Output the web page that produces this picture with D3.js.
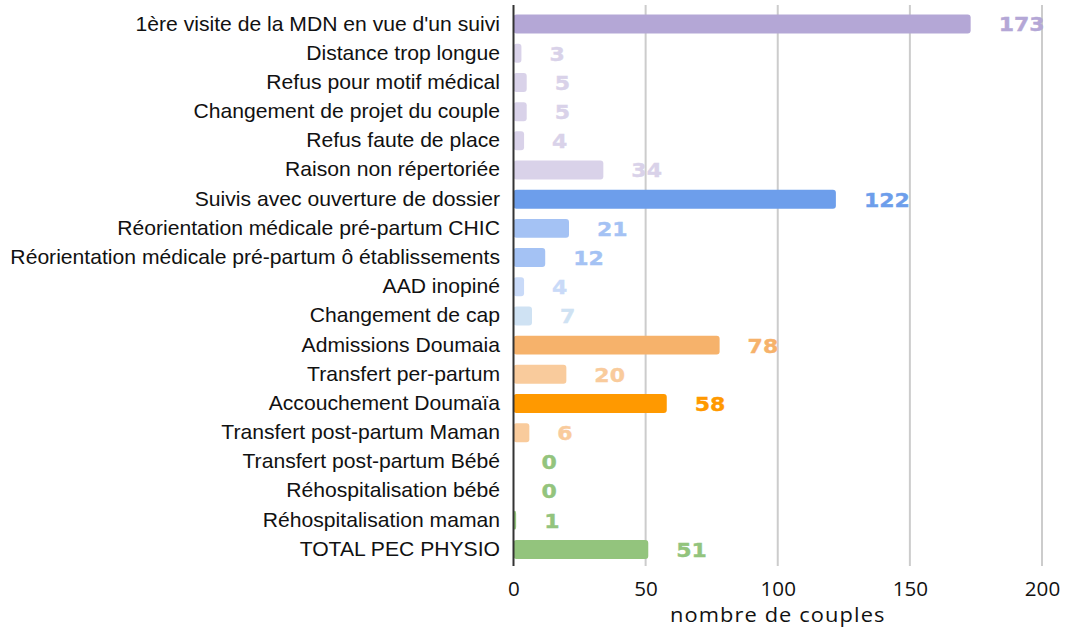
<!DOCTYPE html>
<html><head><meta charset="utf-8">
<script src="https://cdn.jsdelivr.net/npm/d3@7"></script>
<style>body{margin:0;background:#fff}</style>
</head><body>
<svg id="c" width="1067" height="627"></svg>
<script>
const categories = ["1ère visite de la MDN en vue d'un suivi","Distance trop longue","Refus pour motif médical","Changement de projet du couple","Refus faute de place","Raison non répertoriée","Suivis avec ouverture de dossier","Réorientation médicale pré-partum CHIC","Réorientation médicale pré-partum ô établissements","AAD inopiné","Changement de cap","Admissions Doumaia","Transfert per-partum","Accouchement Doumaïa","Transfert post-partum Maman","Transfert post-partum Bébé","Réhospitalisation bébé","Réhospitalisation maman","TOTAL PEC PHYSIO"];
const values = [173,3,5,5,4,34,122,21,12,4,7,78,20,58,6,0,0,1,51];
const colors = ["#b4a7d6","#d9d2e9","#d9d2e9","#d9d2e9","#d9d2e9","#d9d2e9","#6d9eeb","#a4c2f4","#a4c2f4","#c9daf8","#cfe2f3","#f6b26b","#f9cb9c","#ff9900","#f9cb9c","#93c47d","#93c47d","#93c47d","#93c47d"];
const xTicks = [0,50,100,150,200];
const xTitle = "nombre de couples";

(function(){
const svg = d3.select("#c");
const L = 513.5, R = 1042, T = 9.5, B = 564;
const S = 1.057; // horizontal text stretch
const x = d3.scaleLinear().domain([0,200]).range([L,R]);
const y = d3.scaleBand().domain(categories).range([T,B]).paddingInner(0.35).paddingOuter(0.175);

svg.append("g").selectAll("line").data(xTicks.slice(1)).join("line")
  .attr("x1",d=>x(d)).attr("x2",d=>x(d)).attr("y1",5).attr("y2",566)
  .attr("stroke","#cccccc").attr("stroke-width",2);

svg.append("g").selectAll("rect").data(values).join("rect")
  .attr("x",x(0)).attr("y",(d,i)=>y(categories[i]))
  .attr("width",d=>Math.max(0,x(d)-x(0))).attr("height",y.bandwidth())
  .attr("rx",3).attr("fill",(d,i)=>colors[i]);

const VS = 1.1;
svg.append("g").selectAll("text").data(values).join("text")
  .attr("transform",`scale(${VS},1)`)
  .attr("x",d=>(x(d)+28)/VS).attr("y",(d,i)=>y(categories[i])+y.bandwidth()/2)
  .attr("dy","0.37em").attr("fill",(d,i)=>colors[i])
  .attr("stroke",(d,i)=>colors[i]).attr("stroke-width",0.4)
  .attr("font-family","'DejaVu Sans', sans-serif").attr("font-weight","bold").attr("font-size","20px")
  .text(d=>d);

const ya = svg.append("g").attr("transform",`translate(${L},0)`)
  .call(d3.axisLeft(y).tickSize(0).tickPadding(13));
ya.select(".domain").remove();
ya.selectAll("text").attr("transform",`scale(${S},1)`).attr("x",-13.5/S)
  .attr("font-family","'Liberation Sans', Arial, sans-serif").attr("font-size","20px").attr("fill","#111");
svg.append("line").attr("x1",L).attr("x2",L).attr("y1",5).attr("y2",566).attr("stroke","#333").attr("stroke-width",2);

const xa = svg.append("g").attr("transform",`translate(0,566)`)
  .call(d3.axisBottom(x).tickValues(xTicks).tickSize(0).tickPadding(16));
xa.select(".domain").remove();
xa.selectAll("text").attr("transform",`scale(${S},1)`)
  .attr("font-family","'Open Sans', sans-serif").attr("font-size","19.5px").attr("fill","#111");

const TS = 1.12;
svg.append("text").attr("transform",`scale(${TS},1)`).attr("x",(L+R)/2/TS).attr("y",622).attr("text-anchor","middle")
  .attr("font-family","'Open Sans', sans-serif").attr("font-size","19.5px").attr("letter-spacing","1px").attr("fill","#111")
  .text(xTitle);
})();
</script>
</body></html>
